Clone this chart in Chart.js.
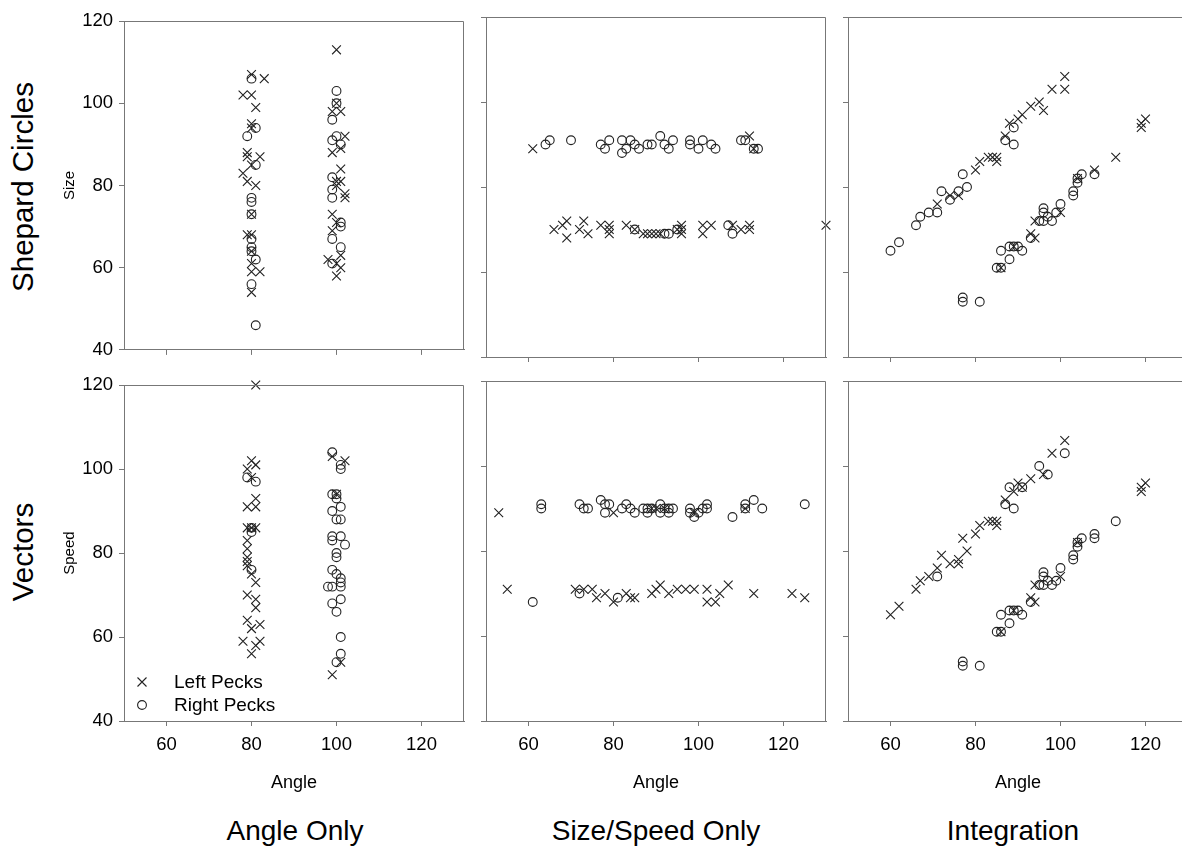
<!DOCTYPE html>
<html>
<head>
<meta charset="utf-8">
<script src="https://cdn.jsdelivr.net/npm/chart.js@4"></script>
<style>
  body { margin: 0; width: 1182px; height: 848px; overflow: hidden; position: relative; background: #fff;
         font-family: 'Liberation Sans', Arial, sans-serif; color: #000; }
  canvas { position: absolute; }
  .lbl { position: absolute; white-space: nowrap; line-height: 1; }
  .rot { transform: translate(-50%, -50%) rotate(-90deg); }
  .ctr { transform: translate(-50%, -50%); }
</style>
</head>
<body>
<script>
// tick labels
const xTicks = [60, 80, 100, 120];
const yTicks = [40, 60, 80, 100, 120];
const rowTitles = ['Shepard Circles', 'Vectors'];
const colTitles = ['Angle Only', 'Size/Speed Only', 'Integration'];
const yTitles = ['Size', 'Speed'];
const xTitle = 'Angle';

// Shepard Circles row  (x = angle, y = size); Left = x marks, Right = circles
const shepAngleLeft = [[80,107],[83,106],[78,102],[80,102],[81,99],[80,95],[80,94],[79,88],[79,87],[82,87],[80,85],
  [78,83],[79,81],[81,80],[80,73],[79,68],[80,68],[80,64],[80,61],[80,59],[82,59],[80,54],
  [100,113],[100,100],[99,98],[101,98],[102,92],[99,88],[101,89],[101,84],[100,81],[101,81],[100,80],[102,78],
  [102,77],[99,73],[100,71],[99,69],[101,63],[98,62],[100,61],[101,60],[100,58]];
const shepAngleRight = [[80,106],[81,94],[79,92],[81,85],[80,77],[80,76],[80,73],[80,67],[80,65],[80,64],[81,62],
  [80,56],[81,46],[100,103],[100,100],[99,96],[100,92],[99,91],[101,90],[99,82],[99,79],[99,77],[101,71],[101,70],
  [99,67],[101,65],[99,61]];
const shepSizeLeft = [[66,70],[68,71],[69,72],[69,68],[72,70],[73,72],[74,69],[77,71],[79,71],[79,70],[79,69],[83,71],
  [85,70],[87,69],[88,69],[89,69],[90,69],[91,69],[95,70],[96,71],[96,70],[96,69],[101,71],[101,69],[103,71],
  [108,71],[110,70],[112,71],[112,70],[130,71],[61,89],[112,92],[113,89]];
const shepSizeRight = [[85,70],[92,69],[93,69],[95,70],[107,71],[108,69],
  [64,90],[65,91],[70,91],[77,90],[78,89],[79,91],[82,91],[82,88],[83,89],[84,91],[85,90],[86,89],[88,90],[89,90],
  [91,92],[92,90],[93,89],[94,91],[98,91],[98,90],[100,89],[101,91],[103,90],[104,89],[110,91],[111,91],[113,89],[114,89]];
const shepIntLeft = [[71,76],[74,78],[76,78],[80,84],[81,86],[83,87],[84,87],[85,87],[85,86],[87,92],[88,95],[90,96],
  [91,97],[93,99],[95,100],[96,98],[98,103],[101,106],[101,103],[113,87],[108,84],[104,82],[100,74],[94,72],[93,69],
  [94,68],[89,66],[86,61],[119,94],[119,95],[120,96]];
const shepIntRight = [[60,65],[62,67],[66,71],[67,73],[69,74],[71,74],[72,79],[74,77],[76,79],[78,80],[77,83],[87,91],
  [89,90],[89,94],[108,83],[105,83],[104,82],[104,81],[103,79],[103,78],[100,76],[96,75],[96,74],[99,74],[97,73],
  [98,72],[96,72],[95,72],[93,68],[86,65],[88,66],[89,66],[90,66],[91,65],[88,63],[85,61],[86,61],[81,53],[77,54],[77,53]];

// Vectors row (x = angle, y = speed)
const vecAngleLeft = [[81,120],[80,102],[81,101],[79,100],[80,98],[81,93],[79,91],[81,91],[79,86],[80,86],[81,86],
  [79,83],[79,81],[79,79],[79,78],[79,77],[80,75],[81,73],[79,70],[81,69],[81,67],[79,64],[82,63],[80,62],[78,59],
  [82,59],[81,58],[80,56],[99,103],[102,102],[100,94],[101,54],[99,51]];
const vecAngleRight = [[79,98],[81,97],[80,86],[80,85],[80,76],[99,104],[101,101],[101,100],[99,94],[100,94],[100,93],
  [99,90],[101,91],[101,88],[100,88],[99,84],[99,83],[101,84],[102,82],[100,80],[100,79],[99,76],[100,75],[101,74],
  [101,73],[98,72],[99,72],[101,72],[101,69],[99,68],[100,66],[101,60],[101,56],[100,54]];
const vecSpeedLeft = [[53,89],[80,89],[89,90],[90,90],[92,90],[99,89],[111,90],
  [55,71],[71,71],[73,71],[75,71],[76,69],[78,70],[80,68],[83,70],[84,69],[85,69],[89,70],[90,71],[91,72],[93,70],
  [95,71],[97,71],[99,71],[102,71],[102,68],[104,68],[105,70],[107,72],[113,70],[122,70],[125,69]];
const vecSpeedRight = [[63,91],[63,90],[72,91],[73,90],[74,90],[77,92],[78,91],[79,91],[78,89],[82,90],[83,91],[84,90],
  [85,89],[87,90],[88,90],[88,89],[89,90],[91,91],[91,89],[92,90],[93,90],[93,89],[94,90],[98,90],[98,89],[99,88],
  [100,89],[101,90],[102,91],[102,90],[108,88],[111,91],[111,90],[113,92],[115,90],[125,91],
  [61,68],[72,70],[81,69]];
const vecIntLeft = [[60,65],[62,67],[66,71],[67,73],[69,74],[71,76],[72,79],[74,77],[76,78],[76,77],[78,80],[77,83],
  [80,84],[81,86],[83,87],[84,87],[85,87],[85,86],[87,92],[89,94],[90,96],[91,95],[93,97],[96,98],[98,103],[101,106],
  [104,82],[100,74],[94,72],[93,69],[94,68],[89,66],[86,61],[119,94],[119,95],[120,96]];
const vecIntRight = [[71,74],[87,91],[88,95],[89,90],[91,95],[95,100],[97,98],[101,103],[113,87],[108,84],[108,83],
  [105,83],[104,82],[104,81],[103,79],[103,78],[100,76],[96,75],[96,74],[99,73],[97,73],[98,72],[96,72],[95,72],
  [93,68],[86,65],[88,66],[89,66],[90,66],[91,65],[88,63],[85,61],[86,61],[81,53],[77,54],[77,53]];

const panelData = [
  [[shepAngleLeft, shepAngleRight], [shepSizeLeft, shepSizeRight], [shepIntLeft, shepIntRight]],
  [[vecAngleLeft, vecAngleRight], [vecSpeedLeft, vecSpeedRight], [vecIntLeft, vecIntRight]]
];

// layout (pixels)
const SIDE = 340;
const colLeft = [124, 486, 848];
const rowTop = [17, 381];
const AXW = 70, PAD = 13;
const AXIS = '#777';
const INK = '#222';
const FONT = "'Liberation Sans', Arial, sans-serif";

const framePlugin = {
  id: 'frame',
  afterDraw(chart) {
    const { ctx, chartArea: a } = chart;
    ctx.save();
    ctx.strokeStyle = AXIS;
    ctx.lineWidth = 1;
    ctx.beginPath();
    const t = Math.round(a.top) + 0.5, r = Math.round(a.right) - 0.5;
    ctx.moveTo(a.left, t); ctx.lineTo(r, t);
    ctx.lineTo(r, a.bottom);
    ctx.stroke();
    ctx.restore();
  }
};

function toPts(arr) { return arr.map(p => ({ x: p[0], y: p[1] })); }

function makePanel(row, col) {
  const bottomH = row === 1 ? 80 : 10;
  const cv = document.createElement('canvas');
  const w = AXW + SIDE + PAD, h = PAD + SIDE + bottomH;
  cv.width = w; cv.height = h;
  cv.style.left = (colLeft[col] - AXW) + 'px';
  cv.style.top = (rowTop[row] - PAD) + 'px';
  cv.style.width = w + 'px'; cv.style.height = h + 'px';
  document.body.appendChild(cv);

  const [leftPts, rightPts] = panelData[row][col];
  new Chart(cv, {
    type: 'scatter',
    data: {
      datasets: [
        { label: 'Left Pecks', data: toPts(leftPts), pointStyle: 'crossRot', pointRadius: 6.2,
          borderColor: INK, backgroundColor: INK, borderWidth: 1.1, clip: false },
        { label: 'Right Pecks', data: toPts(rightPts), pointStyle: 'circle', pointRadius: 4.4,
          borderColor: INK, backgroundColor: 'rgba(0,0,0,0)', borderWidth: 1.1, clip: false }
      ]
    },
    options: {
      responsive: false,
      animation: false,
      devicePixelRatio: 1,
      layout: { padding: { top: PAD, right: PAD, left: 0, bottom: 0 } },
      plugins: { legend: { display: false }, tooltip: { enabled: false } },
      scales: {
        x: {
          type: 'linear', min: 50, max: 130,
          afterBuildTicks: s => { s.ticks = xTicks.map(v => ({ value: v })); },
          afterFit: s => { s.height = bottomH; },
          grid: { drawOnChartArea: false, drawTicks: true, tickLength: 5, color: AXIS },
          border: { display: true, color: AXIS, width: 1 },
          ticks: { display: row === 1, padding: 8, color: '#000', font: { family: FONT, size: 18.5 } },
          title: { display: row === 1, text: xTitle, color: '#000', padding: { bottom: 7 },
                   font: { family: FONT, size: 18 } }
        },
        y: {
          type: 'linear', min: 40, max: 120,
          afterBuildTicks: s => { s.ticks = yTicks.map(v => ({ value: v })); },
          afterFit: s => { s.width = AXW; },
          grid: { drawOnChartArea: false, drawTicks: true, tickLength: 5, color: AXIS },
          border: { display: true, color: AXIS, width: 1 },
          ticks: { display: col === 0, padding: 6, color: '#000', font: { family: FONT, size: 18.5 } },
          title: { display: col === 0, text: yTitles[row], color: '#000', padding: { top: 7 },
                   font: { family: FONT, size: 15 } }
        }
      }
    },
    plugins: [framePlugin]
  });
}

for (let r = 0; r < 2; r++) for (let c = 0; c < 3; c++) makePanel(r, c);

function addLabel(text, x, y, size, cls) {
  const d = document.createElement('div');
  d.className = 'lbl ' + cls;
  d.style.left = x + 'px'; d.style.top = y + 'px';
  d.style.fontSize = size + 'px';
  d.textContent = text;
  document.body.appendChild(d);
}
addLabel(rowTitles[0], 23, 187, 29.5, 'rot');
addLabel(rowTitles[1], 23, 552, 29.5, 'rot');
addLabel(colTitles[0], 295, 831, 28, 'ctr');
addLabel(colTitles[1], 656, 831, 28, 'ctr');
addLabel(colTitles[2], 1013, 831, 28, 'ctr');

// legend inside the lower-left panel
const lg = document.createElement('div');
lg.style.cssText = 'position:absolute;left:134px;top:670px;font-size:19px;line-height:23px;';
lg.innerHTML =
  '<div style="display:flex;align-items:center"><svg width="16" height="16" style="margin-right:24px">' +
  '<path d="M3.5 3.5L12.5 12.5M12.5 3.5L3.5 12.5" stroke="' + INK + '" stroke-width="1.1"/></svg>Left Pecks</div>' +
  '<div style="display:flex;align-items:center"><svg width="16" height="16" style="margin-right:24px">' +
  '<circle cx="8" cy="8" r="4.4" fill="none" stroke="' + INK + '" stroke-width="1.1"/></svg>Right Pecks</div>';
document.body.appendChild(lg);
</script>
</body>
</html>
